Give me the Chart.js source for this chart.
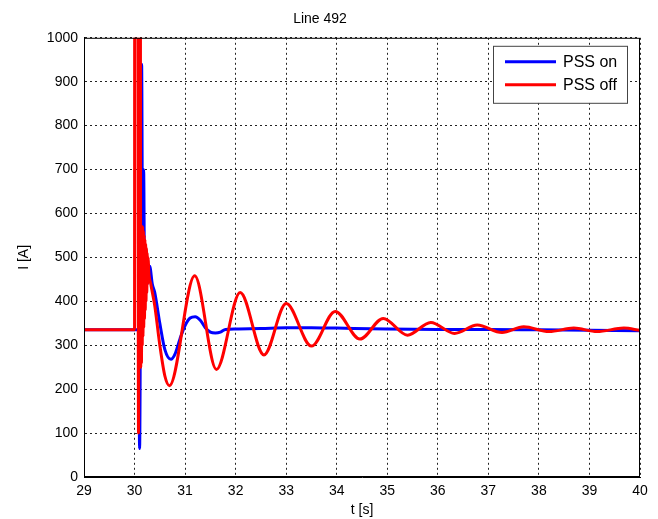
<!DOCTYPE html>
<html>
<head>
<meta charset="utf-8">
<script src="https://cdn.jsdelivr.net/npm/chart.js@4/dist/chart.umd.min.js"></script>
<style>
  body { margin: 0; background: #fff; }
</style>
</head>
<body>
<canvas id="myChart" width="658" height="519"></canvas>
<script>
// PSS on (blue)
const tOn = [29, 30.08, 30.1, 30.14, 30.16, 30.18, 30.2, 30.22, 30.25, 30.3, 30.35, 30.4, 30.5, 30.6, 30.72,
  30.8, 30.9, 31.0, 31.1, 31.2, 31.3, 31.4, 31.5, 31.6, 31.7, 31.8, 32.0, 32.5, 33.0, 33.5, 34.0, 35.0, 36.0, 37.0, 38.0, 39.0, 40];
const iOn = [335, 335, 65, 940, 520, 700, 430, 520, 440, 480, 440, 420, 350, 290, 268,
  280, 315, 345, 362, 365, 357, 340, 330, 328, 330, 336, 337, 338, 340, 340, 339, 337, 336, 336, 335, 334, 333];

// PSS off (red)
const tOff = [29, 30.0, 30.003, 30.065, 30.078, 30.092, 30.115, 30.122, 30.13, 30.137, 30.145, 30.152, 30.16,
  30.167, 30.175, 30.182, 30.19, 30.197, 30.205, 30.212, 30.22, 30.227, 30.235, 30.242, 30.25, 30.26,
  30.27, 30.28, 30.32, 30.4, 30.5, 30.6, 30.69,
  31.19, 31.62, 32.09, 32.56, 33.0, 33.5, 33.97, 34.46, 34.92, 35.4, 35.86, 36.33, 36.78, 37.27, 37.7,
  38.2, 38.69, 39.15, 39.68, 40];
const iOff = [335, 335, 1150, 1150, 100, 1150, 1150, 250, 560, 260, 570, 300, 570,
  320, 560, 340, 550, 360, 540, 380, 530, 400, 520, 420, 510, 440,
  500, 470, 440, 390, 300, 230, 208,
  458, 245, 420, 278, 395, 298, 377, 314, 361, 323, 352, 327, 346, 329, 342,
  331, 339, 331, 339, 334];

const xTicks = [29, 30, 31, 32, 33, 34, 35, 36, 37, 38, 39, 40];
const yTicks = [0, 100, 200, 300, 400, 500, 600, 700, 800, 900, 1000];

const zip = (t, v) => t.map((x, i) => ({ x: x, y: v[i] }));

Chart.defaults.font.family = '"Liberation Sans", Arial, sans-serif';
Chart.defaults.color = '#000';

const boxAndLegend = {
  id: 'boxAndLegend',
  afterDraw(chart) {
    const ctx = chart.ctx;
    const a = chart.chartArea;
    ctx.save();
    ctx.strokeStyle = '#000';
    ctx.lineWidth = 1;
    ctx.strokeRect(a.left + 0.5, a.top + 0.5, a.right - a.left - 1, a.bottom - a.top - 1);

    // legend box, top right inside the plot
    const w = 134, h = 57;
    const x0 = a.right - 13 - w, y0 = a.top + 8;
    ctx.fillStyle = '#fff';
    ctx.fillRect(x0, y0, w, h);
    ctx.strokeStyle = '#444';
    ctx.strokeRect(x0 + 0.5, y0 + 0.5, w, h);
    const items = [chart.data.datasets[0], chart.data.datasets[1]];
    ctx.font = '16px "Liberation Sans", Arial, sans-serif';
    ctx.textBaseline = 'middle';
    items.forEach((ds, i) => {
      const y = y0 + 16 + i * 23;
      ctx.strokeStyle = ds.borderColor;
      ctx.lineWidth = 3;
      ctx.beginPath();
      ctx.moveTo(x0 + 12, y);
      ctx.lineTo(x0 + 63, y);
      ctx.stroke();
      ctx.fillStyle = '#000';
      ctx.fillText(ds.label, x0 + 70, y + 1);
    });
    ctx.restore();
  }
};

new Chart(document.getElementById('myChart').getContext('2d'), {
  type: 'line',
  data: {
    datasets: [
      {
        label: 'PSS on',
        data: zip(tOn, iOn),
        borderColor: '#0000ff',
        borderWidth: 3,
        order: 2,
      },
      {
        label: 'PSS off',
        data: zip(tOff, iOff),
        borderColor: '#ff0000',
        borderWidth: 3,
        order: 1,
      },
    ],
  },
  options: {
    responsive: false,
    animation: false,
    elements: { point: { radius: 0 }, line: { cubicInterpolationMode: 'monotone' } },
    layout: { padding: { left: 0, right: 18, top: 0, bottom: 0 } },
    plugins: {
      legend: { display: false },
      tooltip: { enabled: false },
      title: {
        display: true,
        text: 'Line 492',
        color: '#000',
        font: { size: 14, weight: 'normal' },
        padding: { top: 11, bottom: 10 },
      },
    },
    scales: {
      x: {
        type: 'linear',
        min: 29,
        max: 40,
        afterBuildTicks: (s) => { s.ticks = xTicks.map(v => ({ value: v })); },
        afterFit: (s) => { s.height = 42; },
        ticks: { font: { size: 14 }, padding: 6, color: '#000', callback: (v) => String(v) },
        grid: { color: '#222', lineWidth: 1, drawTicks: false },
        border: { display: true, color: '#000', dash: [2, 3] },
        title: { display: true, text: 't [s]', font: { size: 14 }, padding: { top: 0, bottom: 0 } },
      },
      y: {
        min: 0,
        max: 1000,
        afterBuildTicks: (s) => { s.ticks = yTicks.map(v => ({ value: v })); },
        afterFit: (s) => { s.width = 84; },
        ticks: { font: { size: 14 }, padding: 6, color: '#000', callback: (v) => String(v) },
        grid: { color: '#222', lineWidth: 1, drawTicks: false },
        border: { display: true, color: '#000', dash: [2, 3] },
        title: { display: true, text: 'I [A]', font: { size: 14 }, padding: { top: 16, bottom: 0 } },
      },
    },
  },
  plugins: [boxAndLegend],
});
</script>
</body>
</html>
